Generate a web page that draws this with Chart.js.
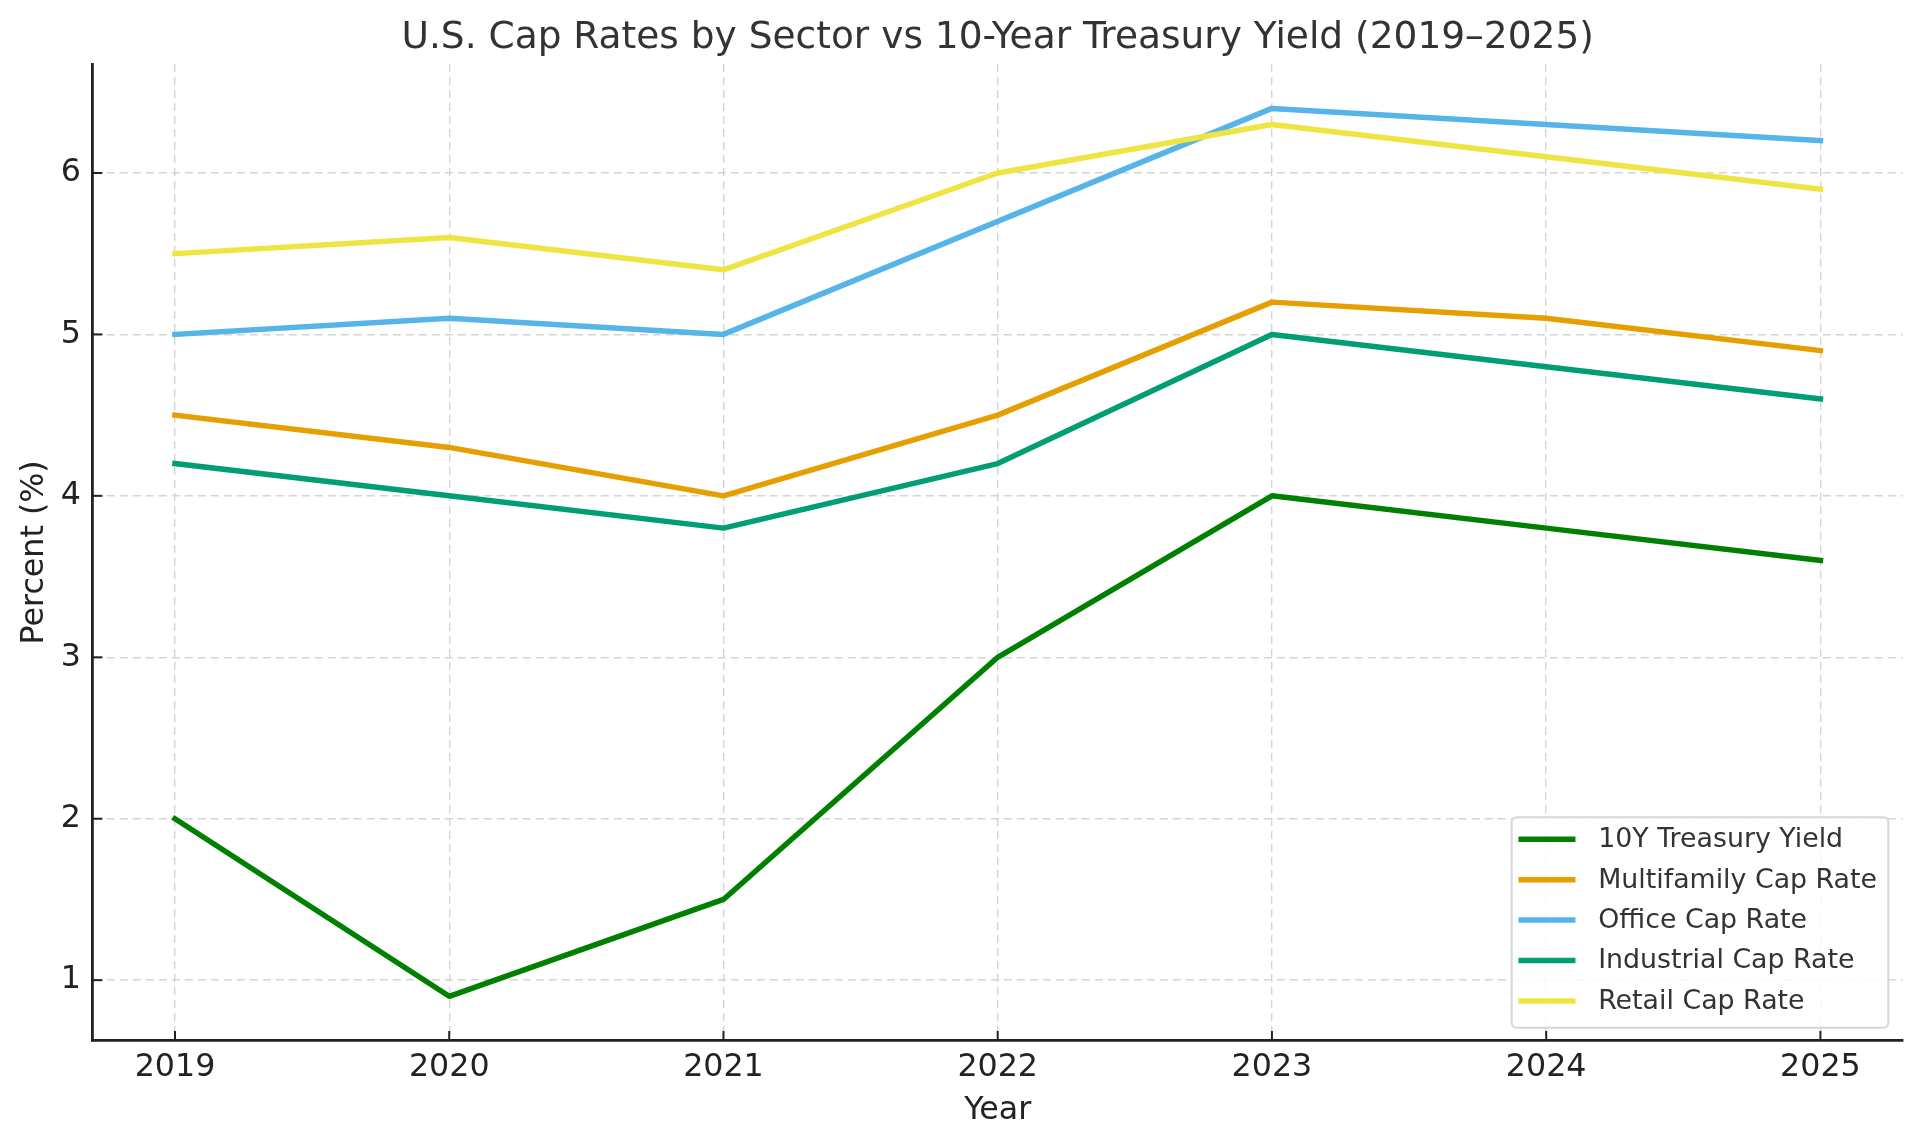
<!DOCTYPE html>
<html>
<head>
<meta charset="utf-8">
<title>U.S. Cap Rates by Sector vs 10-Year Treasury Yield</title>
<script src="https://cdn.jsdelivr.net/npm/chart.js@4.4.1/dist/chart.umd.min.js"></script>
<style>
    html, body { margin: 0; padding: 0; background: #fff; }
    #wrap { width: 1920px; height: 1145px; }
</style>
</head>
<body>
<div id="wrap"><canvas id="capRates" width="1920" height="1145"></canvas></div>
<script>
// Data
const years = [2019, 2020, 2021, 2022, 2023, 2024, 2025];
const treasury10y = [2.0, 0.9, 1.5, 3.0, 4.0, 3.8, 3.6];
const multifamilyCap = [4.5, 4.3, 4.0, 4.5, 5.2, 5.1, 4.9];
const officeCap = [5.0, 5.1, 5.0, 5.7, 6.4, 6.3, 6.2];
const industrialCap = [4.2, 4.0, 3.8, 4.2, 5.0, 4.8, 4.6];
const retailCap = [5.5, 5.6, 5.4, 6.0, 6.3, 6.1, 5.9];
const yTicks = [1, 2, 3, 4, 5, 6];

const seriesNames = ["10Y Treasury Yield", "Multifamily Cap Rate", "Office Cap Rate", "Industrial Cap Rate", "Retail Cap Rate"];
const seriesValues = [treasury10y, multifamilyCap, officeCap, industrialCap, retailCap];
const seriesColors = ["#008000", "#E69F00", "#56B4E9", "#009E73", "#F0E442"];

const FONT = "'DejaVu Sans', 'Noto Sans', sans-serif";

// matplotlib style ticks pointing into the plot
const inwardTicks = {
    id: "inwardTicks",
    afterDatasetsDraw(chart) {
        const { ctx, chartArea, scales } = chart;
        ctx.save();
        ctx.strokeStyle = "#222";
        ctx.lineWidth = 2;
        years.forEach(yr => {
            const px = scales.x.getPixelForValue(yr);
            ctx.beginPath();
            ctx.moveTo(px, chartArea.bottom);
            ctx.lineTo(px, chartArea.bottom - 9.7);
            ctx.stroke();
        });
        yTicks.forEach(v => {
            const py = scales.y.getPixelForValue(v);
            ctx.beginPath();
            ctx.moveTo(chartArea.left, py);
            ctx.lineTo(chartArea.left + 9.7, py);
            ctx.stroke();
        });
        ctx.restore();
    }
};

// legend box in the lower right corner of the plot
const cornerLegend = {
    id: "cornerLegend",
    afterDraw(chart) {
        const { ctx, chartArea } = chart;
        const fontSize = 26.8;
        ctx.save();
        ctx.font = fontSize + "px " + FONT;
        const padL = 9.5, handle = 57, textPad = 20;
        const boxW = 376.6;
        const boxH = 210.4;
        const right = chartArea.right - 14.4;
        const bottom = chartArea.bottom - 13;
        const x0 = right - boxW, y0 = bottom - boxH;

        ctx.beginPath();
        ctx.roundRect(x0, y0, boxW, boxH, 5);
        ctx.fillStyle = "rgba(255,255,255,0.85)";
        ctx.fill();
        ctx.lineWidth = 2;
        ctx.strokeStyle = "#d6d6d6";
        ctx.stroke();

        chart.data.datasets.forEach((ds, i) => {
            const cy = y0 + 22 + i * 40.4;
            ctx.beginPath();
            ctx.lineWidth = 5.5;
            ctx.lineCap = "square";
            ctx.strokeStyle = ds.borderColor;
            ctx.moveTo(x0 + padL, cy);
            ctx.lineTo(x0 + padL + handle - 5.5, cy);
            ctx.stroke();
            ctx.fillStyle = "#333";
            ctx.textBaseline = "middle";
            ctx.textAlign = "left";
            ctx.fillText(ds.label, x0 + padL + handle + textPad, cy + 1);
        });
        ctx.restore();
    }
};

const datasets = seriesNames.map((name, i) => ({
    label: name,
    data: years.map((yr, j) => ({ x: yr, y: seriesValues[i][j] })),
    borderColor: seriesColors[i],
    backgroundColor: seriesColors[i],
    borderWidth: 5.5,
    borderCapStyle: "square",
    borderJoinStyle: "round",
    pointRadius: 0,
    tension: 0,
    fill: false,
    order: seriesNames.length - i
}));

new Chart(document.getElementById("capRates").getContext("2d"), {
    type: "line",
    data: { datasets: datasets },
    options: {
        responsive: false,
        animation: false,
        devicePixelRatio: 1,
        layout: { padding: { left: 0, right: 17.3, top: 0, bottom: 0 } },
        plugins: {
            legend: { display: false },
            tooltip: { enabled: false },
            title: {
                display: true,
                fullSize: false,
                text: "U.S. Cap Rates by Sector vs 10-Year Treasury Yield (2019–2025)",
                color: "#333",
                font: { family: FONT, size: 37.5, weight: "normal", lineHeight: 1.2 },
                padding: { top: 15.5, bottom: 3.5 }
            }
        },
        scales: {
            x: {
                type: "linear",
                min: 2018.7,
                max: 2025.3,
                afterBuildTicks: scale => { scale.ticks = years.map(v => ({ value: v })); },
                afterFit: scale => { scale.height = 104.3; },
                ticks: {
                    color: "#222",
                    font: { family: FONT, size: 31.7 },
                    padding: 8,
                    maxRotation: 0,
                    callback: v => String(v)
                },
                grid: {
                    color: "#d4d4d4",
                    lineWidth: 1.4,
                    drawTicks: false
                },
                border: { display: true, color: "#222", width: 2.8, dash: [8, 5] },
                title: {
                    display: true,
                    text: "Year",
                    color: "#222",
                    font: { family: FONT, size: 31.7 },
                    padding: { top: 0, bottom: 15 }
                }
            },
            y: {
                type: "linear",
                min: 0.625,
                max: 6.675,
                afterBuildTicks: scale => { scale.ticks = yTicks.map(v => ({ value: v })); },
                afterFit: scale => { scale.width = 92.7; },
                ticks: {
                    color: "#222",
                    font: { family: FONT, size: 31.7 },
                    padding: 11.7,
                    callback: v => String(v)
                },
                grid: {
                    color: "#d4d4d4",
                    lineWidth: 1.4,
                    drawTicks: false
                },
                border: { display: true, color: "#222", width: 2.8, dash: [8, 5] },
                title: {
                    display: true,
                    text: "Percent (%)",
                    color: "#222",
                    font: { family: FONT, size: 31.7 },
                    padding: { top: 16, bottom: 0 }
                }
            }
        }
    },
    plugins: [inwardTicks, cornerLegend]
});
</script>
</body>
</html>
